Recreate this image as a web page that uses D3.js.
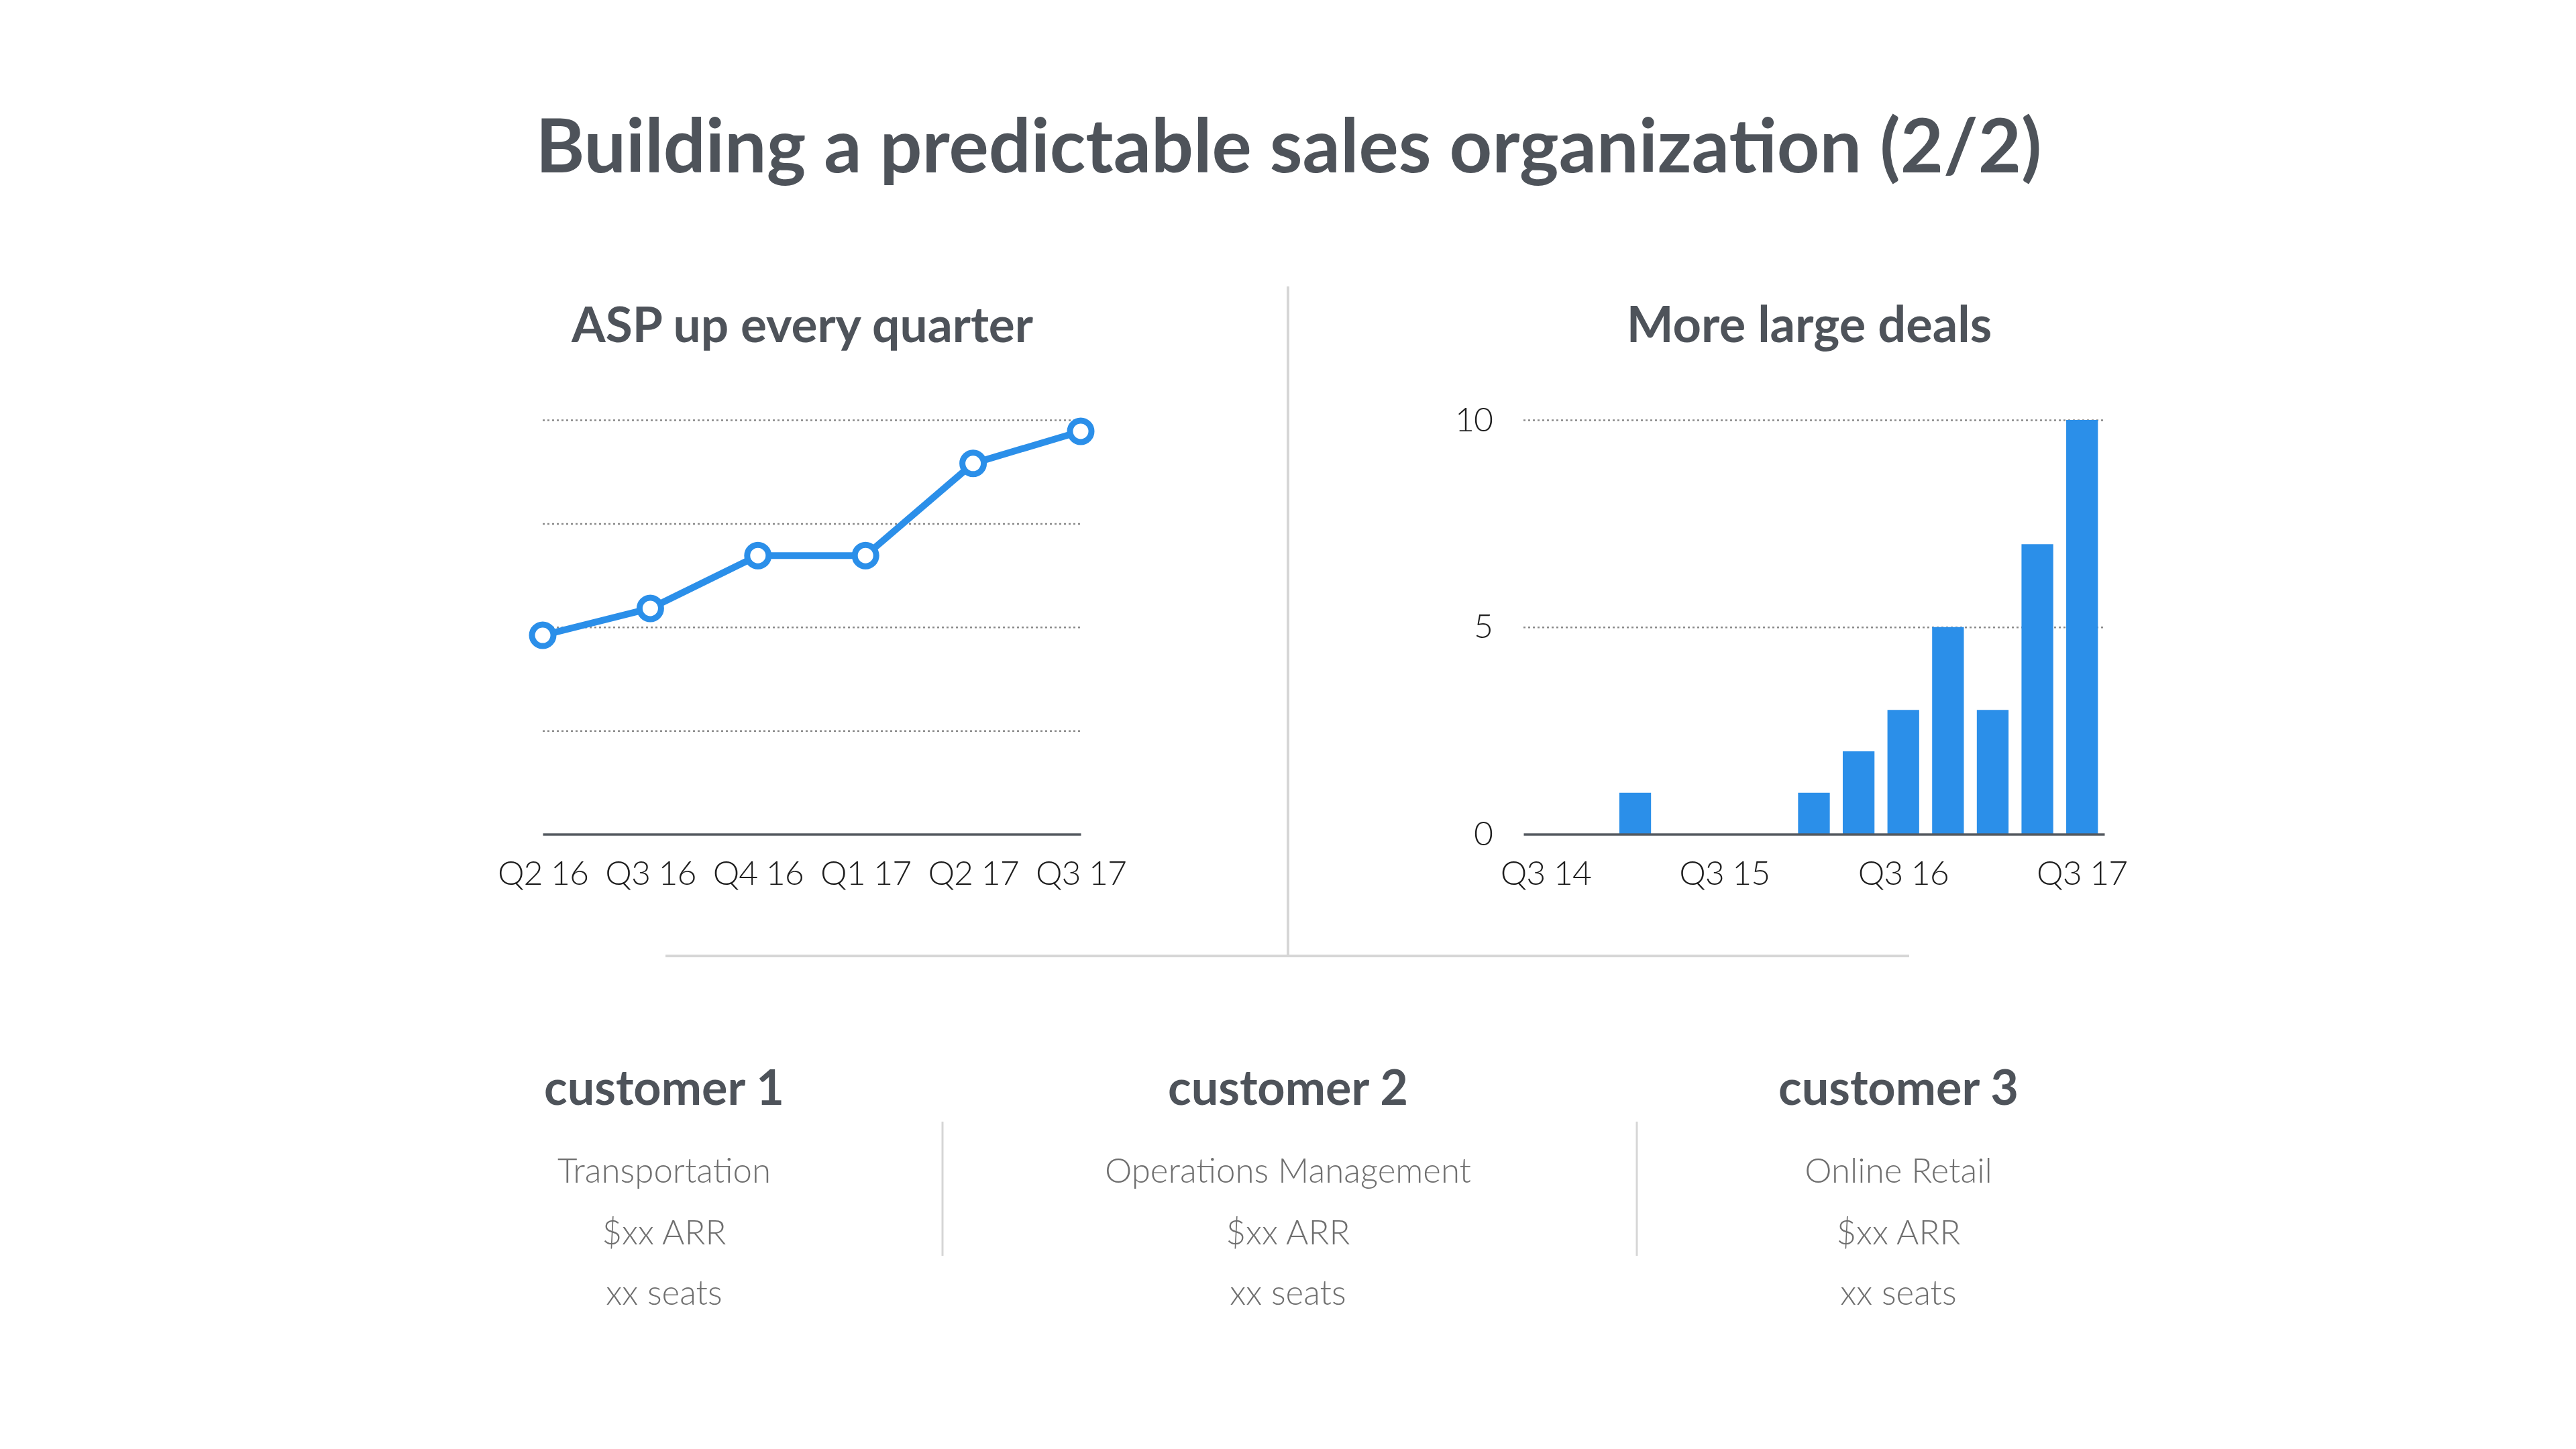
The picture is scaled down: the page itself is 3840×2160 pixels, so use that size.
<!DOCTYPE html>
<html>
<head>
<meta charset="utf-8">
<script src="https://cdn.jsdelivr.net/npm/d3@7"></script>
<style>
  html, body { margin: 0; padding: 0; background: #fff; }
  svg text { font-family: Lato, "Open Sans", sans-serif; }
  .grid line { stroke: #8a8a8a; stroke-width: 2.5; stroke-dasharray: 3 4; }
  .grid path { display: none; }
  .axis path { stroke: #555a60; stroke-width: 3.5; }
  .axis line { display: none; }
  .axis text { font-size: 50px; font-weight: 300; fill: #1e1e1e; letter-spacing: -1px; }
</style>
</head>
<body>
<div id="chart"></div>
<script>
// ASP chart (relative units, no labels on y)
var aspQuarters = ["Q2 16", "Q3 16", "Q4 16", "Q1 17", "Q2 17", "Q3 17"];
var aspValues = [1.92, 2.18, 2.69, 2.69, 3.58, 3.89];
var aspGrid = [1, 2, 3, 4];

// large deals per quarter
var dealQuarters = ["Q3 14", "Q4 14", "Q1 15", "Q2 15", "Q3 15", "Q4 15", "Q1 16",
                    "Q2 16", "Q3 16", "Q4 16", "Q1 17", "Q2 17", "Q3 17"];
var dealValues = [0, 0, 1, 0, 0, 0, 1, 2, 3, 5, 3, 7, 10];
var dealTicks = [0, 5, 10];
var dealLabelTicks = ["Q3 14", "Q3 15", "Q3 16", "Q3 17"];

var customers = ["customer 1", "customer 2", "customer 3"];
var industries = ["Transportation", "Operations Management", "Online Retail"];
var arr = ["$xx ARR", "$xx ARR", "$xx ARR"];
var seats = ["xx seats", "xx seats", "xx seats"];

var width = 3840, height = 2160;
var blue = "#2b8fe9", dark = "#4e535a", rule = "#d6d6d6";

var svg = d3.select("#chart").append("svg")
    .attr("width", width)
    .attr("height", height);

// main title
svg.append("text")
    .attr("x", 1921).attr("y", 257)
    .attr("text-anchor", "middle")
    .attr("font-size", 111).attr("font-weight", 700)
    .attr("fill", dark)
    .text("Building a predictable sales organization (2/2)");

// dividers
svg.append("line").attr("x1", 1920).attr("x2", 1920).attr("y1", 427).attr("y2", 1425)
    .attr("stroke", rule).attr("stroke-width", 4);
svg.append("line").attr("x1", 992).attr("x2", 2846).attr("y1", 1425).attr("y2", 1425)
    .attr("stroke", rule).attr("stroke-width", 4);

// ---------- left: ASP ----------
var yTop = 626, yBottom = 1243.5;

var xAsp = d3.scalePoint().domain(aspQuarters).range([809, 1611]);
var yAsp = d3.scaleLinear().domain([0, 4]).range([yBottom, yTop]);

svg.append("text")
    .attr("x", 1196).attr("y", 510)
    .attr("text-anchor", "middle")
    .attr("font-size", 73).attr("font-weight", 700)
    .attr("fill", dark)
    .text("ASP up every quarter");

svg.append("g")
    .attr("class", "grid")
    .attr("transform", "translate(809,0)")
    .call(d3.axisLeft(yAsp).tickValues(aspGrid).tickSize(-(1611 - 809)).tickFormat(""));

svg.append("g")
    .attr("class", "axis")
    .attr("transform", "translate(0," + yBottom + ")")
    .call(d3.axisBottom(xAsp).tickSize(0).tickSizeOuter(0).tickPadding(40));

var line = d3.line()
    .x(function(d, i){ return xAsp(aspQuarters[i]); })
    .y(function(d){ return yAsp(d); });

svg.append("path")
    .datum(aspValues)
    .attr("d", line)
    .attr("fill", "none")
    .attr("stroke", blue)
    .attr("stroke-width", 10)
    .attr("stroke-linejoin", "round");

svg.append("g").selectAll("circle").data(aspValues).enter().append("circle")
    .attr("cx", function(d, i){ return xAsp(aspQuarters[i]); })
    .attr("cy", function(d){ return yAsp(d); })
    .attr("r", 16)
    .attr("fill", "#fff")
    .attr("stroke", blue)
    .attr("stroke-width", 9);

// ---------- right: large deals ----------
var xDeal = d3.scaleBand().domain(dealQuarters).range([2271, 3137])
    .paddingInner(0.29).paddingOuter(0.145);
var yDeal = d3.scaleLinear().domain([0, 10]).range([yBottom, yTop]);

svg.append("text")
    .attr("x", 2697).attr("y", 510)
    .attr("text-anchor", "middle")
    .attr("font-size", 74).attr("font-weight", 700)
    .attr("fill", dark)
    .text("More large deals");

svg.append("g")
    .attr("class", "grid")
    .attr("transform", "translate(2271,0)")
    .call(d3.axisLeft(yDeal).tickValues([5, 10]).tickSize(-(3137 - 2271)).tickFormat(""));

svg.selectAll("rect.bar").data(dealValues).enter().append("rect")
    .attr("class", "bar")
    .attr("x", function(d, i){ return xDeal(dealQuarters[i]); })
    .attr("width", xDeal.bandwidth())
    .attr("y", function(d){ return yDeal(d); })
    .attr("height", function(d){ return yBottom - yDeal(d); })
    .attr("fill", blue);

svg.append("g")
    .attr("class", "axis")
    .attr("transform", "translate(0," + yBottom + ")")
    .call(d3.axisBottom(xDeal).tickValues(dealLabelTicks).tickSize(0).tickSizeOuter(0).tickPadding(40));

var yAxisDeal = svg.append("g")
    .attr("class", "axis")
    .attr("transform", "translate(2271,0)")
    .call(d3.axisLeft(yDeal).tickValues(dealTicks).tickSize(0).tickPadding(46));
yAxisDeal.select(".domain").remove();

// ---------- customers ----------
var custX = [990, 1920, 2830];
var sepX = [1405, 2440];

var cust = svg.append("g").selectAll("g").data(customers).enter().append("g")
    .attr("transform", function(d, i){ return "translate(" + custX[i] + ",0)"; });

cust.append("text").attr("y", 1647).attr("text-anchor", "middle")
    .attr("font-size", 72).attr("font-weight", 700).attr("fill", dark)
    .text(function(d){ return d; });

cust.append("text").attr("y", 1763).attr("text-anchor", "middle")
    .attr("font-size", 51).attr("font-weight", 300).attr("fill", "#6f6f6f")
    .text(function(d, i){ return industries[i]; });

cust.append("text").attr("y", 1855).attr("text-anchor", "middle")
    .attr("font-size", 51).attr("font-weight", 300).attr("fill", "#6f6f6f")
    .text(function(d, i){ return arr[i]; });

cust.append("text").attr("y", 1945).attr("text-anchor", "middle")
    .attr("font-size", 51).attr("font-weight", 300).attr("fill", "#6f6f6f")
    .text(function(d, i){ return seats[i]; });

svg.append("g").selectAll("line").data(sepX).enter().append("line")
    .attr("x1", function(d){ return d; }).attr("x2", function(d){ return d; })
    .attr("y1", 1672).attr("y2", 1872)
    .attr("stroke", rule).attr("stroke-width", 3);
</script>
</body>
</html>
